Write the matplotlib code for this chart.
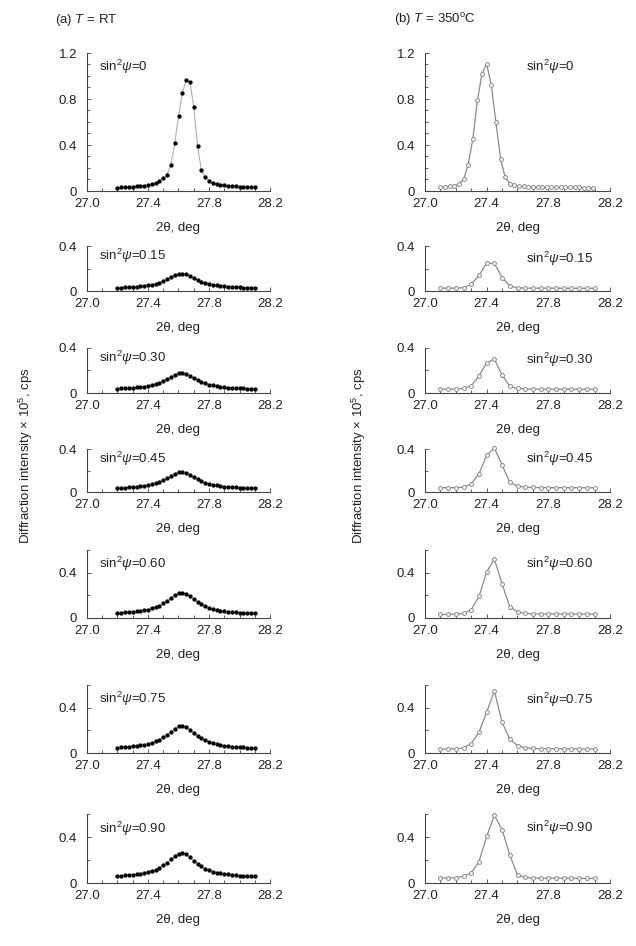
import matplotlib
matplotlib.use('Agg')
import matplotlib.pyplot as plt
from matplotlib.ticker import MultipleLocator

plt.rcParams['font.family'] = ['Liberation Sans', 'DejaVu Sans']
plt.rcParams['mathtext.fontset'] = 'custom'
plt.rcParams['mathtext.rm'] = 'Liberation Sans'
plt.rcParams['mathtext.it'] = 'Liberation Sans:italic'
plt.rcParams['font.size'] = 9

# ---- data: (a) T = RT ----
rt_x = [27.2, 27.225, 27.25, 27.275, 27.3, 27.325, 27.35, 27.375, 27.4, 27.425,
        27.45, 27.475, 27.5, 27.525, 27.55, 27.575, 27.6, 27.625, 27.65, 27.675,
        27.7, 27.725, 27.75, 27.775, 27.8, 27.825, 27.85, 27.875, 27.9, 27.925,
        27.95, 27.975, 28.0, 28.025, 28.05, 28.075, 28.1]

rt_000 = [0.030, 0.031, 0.033, 0.035, 0.037, 0.040, 0.043, 0.047, 0.052, 0.059,
          0.069, 0.084, 0.110, 0.140, 0.230, 0.415, 0.650, 0.850, 0.965, 0.950,
          0.730, 0.390, 0.180, 0.120, 0.085, 0.070, 0.062, 0.055, 0.050, 0.046,
          0.043, 0.040, 0.038, 0.036, 0.034, 0.032, 0.031]
rt_015 = [0.030, 0.031, 0.033, 0.035, 0.037, 0.039, 0.042, 0.046, 0.051, 0.057,
          0.065, 0.075, 0.088, 0.103, 0.121, 0.138, 0.151, 0.155, 0.147, 0.132,
          0.113, 0.096, 0.082, 0.071, 0.062, 0.054, 0.049, 0.044, 0.041, 0.038,
          0.036, 0.034, 0.032, 0.031, 0.030, 0.029, 0.028]
rt_030 = [0.039, 0.041, 0.042, 0.044, 0.047, 0.050, 0.053, 0.057, 0.063, 0.070,
          0.079, 0.090, 0.104, 0.121, 0.141, 0.161, 0.176, 0.180, 0.171, 0.154,
          0.133, 0.114, 0.098, 0.085, 0.075, 0.067, 0.061, 0.056, 0.052, 0.048,
          0.046, 0.044, 0.042, 0.040, 0.039, 0.038, 0.037]
rt_045 = [0.038, 0.040, 0.041, 0.044, 0.046, 0.049, 0.053, 0.057, 0.063, 0.071,
          0.080, 0.092, 0.108, 0.126, 0.148, 0.169, 0.185, 0.189, 0.179, 0.161,
          0.139, 0.118, 0.101, 0.087, 0.076, 0.068, 0.061, 0.056, 0.051, 0.048,
          0.045, 0.043, 0.041, 0.039, 0.038, 0.037, 0.036]
rt_060 = [0.045, 0.047, 0.049, 0.051, 0.054, 0.058, 0.062, 0.068, 0.075, 0.084,
          0.095, 0.109, 0.128, 0.150, 0.175, 0.201, 0.220, 0.225, 0.213, 0.191,
          0.165, 0.140, 0.120, 0.103, 0.090, 0.080, 0.072, 0.065, 0.060, 0.056,
          0.053, 0.050, 0.048, 0.046, 0.044, 0.043, 0.042]
rt_075 = [0.048, 0.050, 0.052, 0.055, 0.058, 0.062, 0.067, 0.073, 0.080, 0.090,
          0.102, 0.117, 0.137, 0.161, 0.189, 0.216, 0.236, 0.242, 0.230, 0.205,
          0.177, 0.151, 0.129, 0.111, 0.097, 0.086, 0.077, 0.070, 0.065, 0.060,
          0.057, 0.054, 0.051, 0.049, 0.047, 0.046, 0.044]
rt_090 = [0.061, 0.063, 0.066, 0.068, 0.072, 0.076, 0.081, 0.087, 0.095, 0.105,
          0.117, 0.133, 0.154, 0.178, 0.207, 0.235, 0.256, 0.262, 0.249, 0.224,
          0.195, 0.168, 0.145, 0.126, 0.112, 0.100, 0.091, 0.084, 0.079, 0.074,
          0.070, 0.067, 0.065, 0.063, 0.061, 0.059, 0.058]

# ---- data: (b) T = 350 C ----
ht_x0 = [27.10, 27.13, 27.16, 27.19, 27.22, 27.25, 27.28, 27.31, 27.34, 27.37,
         27.40, 27.43, 27.46, 27.49, 27.52, 27.55, 27.58, 27.61, 27.64, 27.67,
         27.70, 27.73, 27.76, 27.79, 27.82, 27.85, 27.88, 27.91, 27.94, 27.97,
         28.00, 28.03, 28.06, 28.09]
ht_000 = [0.035, 0.038, 0.040, 0.045, 0.060, 0.100, 0.230, 0.450, 0.790, 1.020,
          1.105, 0.920, 0.600, 0.280, 0.120, 0.065, 0.048, 0.042, 0.040, 0.038,
          0.037, 0.036, 0.035, 0.034, 0.034, 0.033, 0.033, 0.032, 0.032, 0.031,
          0.031, 0.030, 0.030, 0.030]

ht_x = [27.1, 27.15, 27.2, 27.25, 27.3, 27.35, 27.4, 27.45, 27.5, 27.55, 27.6,
        27.65, 27.7, 27.75, 27.8, 27.85, 27.9, 27.95, 28.0, 28.05, 28.1]
ht_015 = [0.025, 0.025, 0.026, 0.030, 0.060, 0.140, 0.245, 0.245, 0.120, 0.045, 0.028,
          0.026, 0.025, 0.025, 0.025, 0.025, 0.024, 0.024, 0.024, 0.024, 0.024]
ht_030 = [0.035, 0.035, 0.036, 0.040, 0.065, 0.150, 0.270, 0.300, 0.160, 0.058, 0.040,
          0.036, 0.035, 0.035, 0.034, 0.034, 0.034, 0.034, 0.033, 0.033, 0.033]
ht_045 = [0.040, 0.040, 0.040, 0.045, 0.075, 0.170, 0.340, 0.410, 0.250, 0.090, 0.055,
          0.045, 0.042, 0.041, 0.041, 0.040, 0.040, 0.040, 0.040, 0.039, 0.039]
ht_060 = [0.032, 0.032, 0.033, 0.040, 0.074, 0.190, 0.405, 0.520, 0.300, 0.100, 0.053,
          0.040, 0.037, 0.036, 0.036, 0.036, 0.035, 0.035, 0.035, 0.035, 0.035]
ht_075 = [0.035, 0.036, 0.037, 0.044, 0.083, 0.183, 0.360, 0.548, 0.270, 0.124, 0.065,
          0.045, 0.040, 0.038, 0.038, 0.037, 0.037, 0.037, 0.036, 0.036, 0.036]
ht_090 = [0.044, 0.044, 0.045, 0.059, 0.088, 0.185, 0.405, 0.588, 0.464, 0.244, 0.068,
          0.048, 0.044, 0.043, 0.042, 0.042, 0.041, 0.041, 0.040, 0.040, 0.040]

psi_labels = ['0', '0.15', '0.30', '0.45', '0.60', '0.75', '0.90']
x_ticks = [27.0, 27.4, 27.8, 28.2]
y_max = [1.2, 0.4, 0.4, 0.4, 0.6, 0.6, 0.6]

left_series = [(rt_x, rt_000), (rt_x, rt_015), (rt_x, rt_030), (rt_x, rt_045),
               (rt_x, rt_060), (rt_x, rt_075), (rt_x, rt_090)]
right_series = [(ht_x0, ht_000), (ht_x, ht_015), (ht_x, ht_030), (ht_x, ht_045),
                (ht_x, ht_060), (ht_x, ht_075), (ht_x, ht_090)]

# layout in pixels (top, bottom of each axes)
W, H = 636, 946
rows = [(53, 191), (246, 291), (348, 393), (449, 492), (550, 618), (685, 753), (814, 883)]
cols = [(87, 270), (425, 610)]
label_y_left = [0.90, 0.78, 0.78, 0.78, 0.79, 0.79, 0.79]
label_y_right = [0.90, 0.71, 0.73, 0.76, 0.79, 0.78, 0.80]

fig = plt.figure(figsize=(W / 100, H / 100), dpi=100)
spine_col = '#444444'
txt_col = '#222222'


def make_axes(x0, x1, top, bot):
    ax = fig.add_axes([x0 / W, 1 - bot / H, (x1 - x0) / W, (bot - top) / H])
    for s in ['top', 'right']:
        ax.spines[s].set_visible(False)
    for s in ['left', 'bottom']:
        ax.spines[s].set_color(spine_col)
        ax.spines[s].set_linewidth(0.8)
    ax.tick_params(which='both', direction='in', color=spine_col, width=0.6)
    ax.tick_params(which='major', length=3, labelsize=9.5, labelcolor=txt_col)
    ax.tick_params(which='minor', length=2)
    ax.tick_params(axis='x', pad=5)
    ax.tick_params(axis='y', pad=7)
    return ax


for i in range(7):
    top, bot = rows[i]
    ym = y_max[i]
    if ym > 1:
        yt = [0, 0.4, 0.8, 1.2]
        yminor = 0.1
    else:
        yt = [0, 0.4]
        yminor = 0.2
    for c in range(2):
        ax = make_axes(cols[c][0], cols[c][1], top, bot)
        if c == 0:
            xs, ys = left_series[i]
            ax.plot(xs, ys, '-', color='#b0b0b0', lw=0.8, zorder=2, clip_on=False)
            ax.plot(xs, ys, 'o', color='black', ms=2.1, mec='black', zorder=3, clip_on=False)
            ax.text(0.065, label_y_left[i], r'sin$^2\psi$=' + psi_labels[i],
                    transform=ax.transAxes, ha='left', va='center', fontsize=9.5, color=txt_col)
        else:
            xs, ys = right_series[i]
            ax.plot(xs, ys, '-', color='#8a8a8a', lw=0.9, zorder=2, clip_on=False)
            ax.plot(xs, ys, 'o', mfc='white', mec='#8a8a8a', ms=2.8, mew=0.7, zorder=3,
                    clip_on=False)
            ax.text(0.545, label_y_right[i], r'sin$^2\psi$=' + psi_labels[i],
                    transform=ax.transAxes, ha='left', va='center', fontsize=9.5, color=txt_col)
        ax.set_xlim(27.0, 28.2)
        ax.set_ylim(0, ym)
        ax.set_xticks(x_ticks)
        ax.set_xticklabels([f'{v:.1f}' for v in x_ticks])
        ax.xaxis.set_minor_locator(MultipleLocator(0.1))
        ax.set_yticks(yt)
        ax.set_yticklabels(['0' if v == 0 else f'{v:.1f}' for v in yt])
        ax.yaxis.set_minor_locator(MultipleLocator(yminor))
        ax.set_xlabel(r'2θ, deg', fontsize=9.5, labelpad=9, color=txt_col)

fig.text(55 / W, 1 - 20 / H, r'(a) $T$ = RT', ha='left', va='center', fontsize=9.5, color=txt_col)
fig.text(394 / W, 1 - 20 / H, r'(b) $T$ = 350$^{\mathrm{o}}$C', ha='left', va='center',
         fontsize=9.5, color=txt_col)

ylab = 'Diffraction intensity × 10$^5$, cps'
fig.text(26 / W, 1 - 456 / H, ylab, rotation=90, ha='center', va='center', fontsize=9.5, color=txt_col)
fig.text(359 / W, 1 - 456 / H, ylab, rotation=90, ha='center', va='center', fontsize=9.5,
         color=txt_col)

fig.savefig('out.png', dpi=100)
